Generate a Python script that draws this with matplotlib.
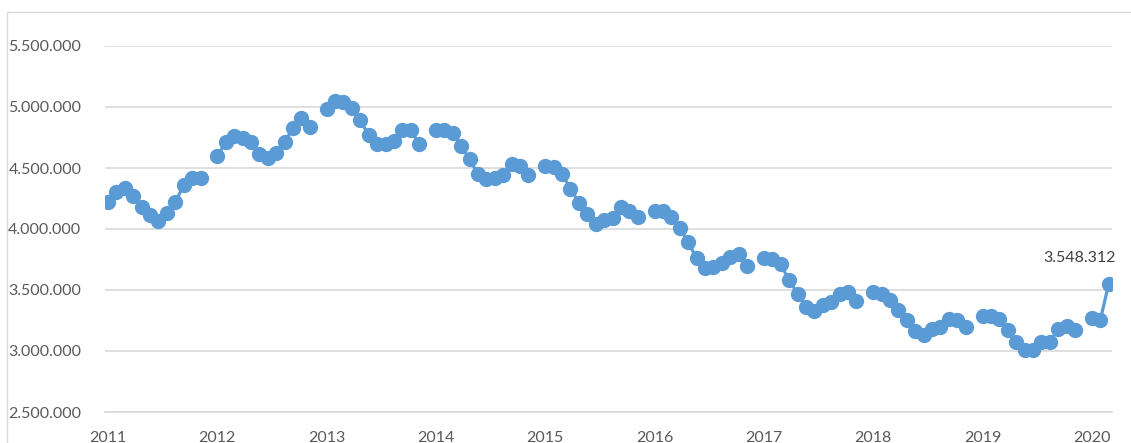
import numpy as np
import matplotlib
matplotlib.use("Agg")
import matplotlib.pyplot as plt
from matplotlib.patches import Rectangle
from matplotlib.ticker import FuncFormatter

plt.rcParams['font.family'] = ['Lato', 'DejaVu Sans']

# monthly values (millions), Jan..Dec
years = [2011, 2012, 2013, 2014, 2015, 2016, 2017, 2018, 2019, 2020]
v2011 = [4.225, 4.30, 4.34, 4.27, 4.18, 4.115, 4.066, 4.13, 4.22, 4.36, 4.42, 4.42]
v2012 = [4.596, 4.71, 4.76, 4.75, 4.71, 4.615, 4.58, 4.62, 4.71, 4.83, 4.91, 4.84]
v2013 = [4.98, 5.047, 5.04, 4.99, 4.89, 4.77, 4.70, 4.70, 4.72, 4.81, 4.81, 4.70]
v2014 = [4.81, 4.81, 4.79, 4.68, 4.57, 4.45, 4.41, 4.42, 4.44, 4.535, 4.52, 4.445]
v2015 = [4.52, 4.51, 4.45, 4.33, 4.215, 4.12, 4.04, 4.07, 4.09, 4.18, 4.15, 4.095]
v2016 = [4.15, 4.15, 4.10, 4.01, 3.89, 3.76, 3.68, 3.69, 3.72, 3.77, 3.795, 3.70]
v2017 = [3.76, 3.75, 3.71, 3.58, 3.47, 3.36, 3.33, 3.38, 3.40, 3.47, 3.48, 3.41]
v2018 = [3.48, 3.47, 3.42, 3.335, 3.25, 3.165, 3.13, 3.18, 3.20, 3.26, 3.255, 3.198]
v2019 = [3.286, 3.29, 3.265, 3.17, 3.07, 3.01, 3.01, 3.075, 3.07, 3.18, 3.205, 3.17]
v2020 = [3.27, 3.25, 3.548312]
last_label = "3.548.312"

# each year = 12 months + one empty slot
vals = []
for yv in [v2011, v2012, v2013, v2014, v2015, v2016, v2017, v2018, v2019]:
    vals += yv + [np.nan]
vals += v2020
vals = np.array(vals) * 1e6
x = np.arange(len(vals))

fig = plt.figure(figsize=(11.31, 4.43), dpi=100)
W, H = 1131, 443
ax = fig.add_axes([105 / W, (H - 412) / H, (1112 - 105) / W, 366 / H])

# outer chart frame
fig.patches.append(Rectangle((7 / W, -0.1), 1.2, (H - 12) / H + 0.1,
                             transform=fig.transFigure, fill=False,
                             edgecolor="#D9D9D9", linewidth=1))

blue = "#5B9BD5"
ax.plot(x, vals, color=blue, linewidth=2.3, marker="o", markersize=10,
        markerfacecolor=blue, markeredgecolor=blue, zorder=3)

ax.set_ylim(2.5e6, 5.5e6)
ax.set_xlim(-0.36, len(vals) - 1 + 0.4)
ax.set_yticks(np.arange(2.5e6, 5.51e6, 0.5e6))
ax.yaxis.set_major_formatter(FuncFormatter(lambda v, p: f"{int(round(v)):,}".replace(",", ".")))
ax.set_xticks([13 * i for i in range(len(years))])
ax.set_xticklabels([str(y) for y in years])

ax.grid(axis="y", color="#D9D9D9", linewidth=1.2)
ax.set_axisbelow(True)
for s in ["top", "right", "left"]:
    ax.spines[s].set_visible(False)
ax.spines["bottom"].set_color("#D9D9D9")
ax.spines["bottom"].set_linewidth(1.2)
ax.tick_params(axis="both", length=0, labelsize=11.5, labelcolor="#595959")
ax.tick_params(axis="y", pad=17)
ax.tick_params(axis="x", pad=14)

ax.annotate(last_label, xy=(x[-1], vals[-1]), xytext=(5, 14),
            textcoords="offset points", ha="right", va="bottom",
            fontsize=11.5, color="#404040")

fig.savefig("out.png", dpi=100)
